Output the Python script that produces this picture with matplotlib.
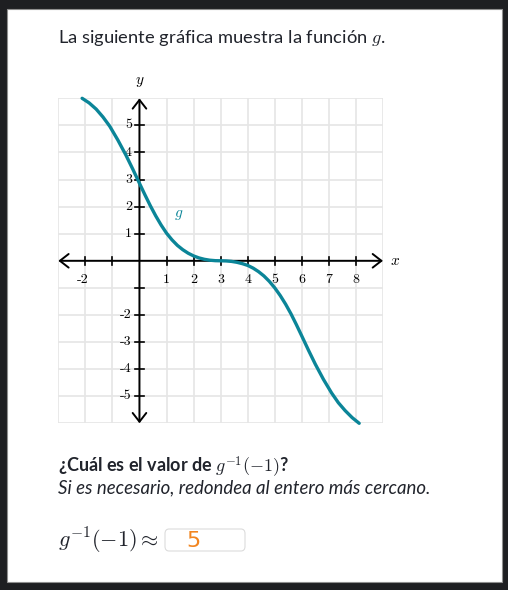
import matplotlib
matplotlib.use("Agg")
import matplotlib.pyplot as plt
from matplotlib.patches import Rectangle, FancyBboxPatch

plt.rcParams['mathtext.fontset'] = 'cm'

W, H = 508, 590

# ---- data ----
gx = [-2.12, -1.86, -1.60, -1.35, -1.10, -0.80, -0.50, -0.25, 0.00, 0.20, 0.40,
      0.60, 0.80, 1.00, 1.20, 1.40, 1.60, 1.80, 2.00, 2.20, 2.40, 2.60, 2.80, 3.00,
      3.20, 3.40, 3.60, 3.80, 4.00, 4.20, 4.40, 4.60, 4.80, 5.00, 5.20, 5.40,
      5.60, 5.80, 6.00, 6.25, 6.50, 6.80, 7.10, 7.35, 7.60, 7.86, 8.12]
gy = [6.00, 5.83, 5.60, 5.31, 4.97, 4.46, 3.90, 3.39, 2.86, 2.44, 2.035,
      1.66, 1.32, 1.02, 0.775, 0.57, 0.41, 0.28, 0.18, 0.106, 0.055, 0.022, 0.005, 0.00,
      -0.005, -0.022, -0.055, -0.105, -0.17, -0.27, -0.40, -0.56, -0.76, -1.00, -1.28, -1.60,
      -1.96, -2.36, -2.78, -3.31, -3.82, -4.38, -4.88, -5.24, -5.53, -5.79, -6.00]

xticks = [-2, -1, 1, 2, 3, 4, 5, 6, 7, 8]
xlabels = ["-2", "", "1", "2", "3", "4", "5", "6", "7", "8"]
yticks = [-5, -4, -3, -2, -1, 1, 2, 3, 4, 5]
ylabels = ["-5", "-4", "-3", "-2", "", "1", "2", "3", "4", "5"]

CURVE = "#0b8598"
TEXT = "#21242c"

fig = plt.figure(figsize=(W / 100, H / 100), dpi=100, facecolor="#1e1f22")

def fx(x):
    return x / W

def fy(y):
    return 1 - y / H

# white panel
fig.patches.append(Rectangle((fx(6.7), fy(582)), (502 - 6.7) / W, (582 - 9.3) / H,
                             transform=fig.transFigure, facecolor="white",
                             edgecolor="#8f8f8f", linewidth=0.8, zorder=-10))

# axes area: x -3..9 -> px 58.3..383 ; y -6..6 -> py 423.3..98.3
ax = fig.add_axes([fx(58.3), fy(423.3), (383 - 58.3) / W, (423.3 - 98.3) / H])
ax.set_zorder(1)
ax.patch.set_visible(False)
ax.set_xlim(-3, 9)
ax.set_ylim(-6, 6)
ax.set_axis_off()

for v in range(-3, 10):
    ax.plot([v, v], [-6, 6], color="#e6e6e6", lw=1.25, zorder=1, solid_capstyle="butt")
for v in range(-6, 7):
    ax.plot([-3, 9], [v, v], color="#e6e6e6", lw=1.25, zorder=1, solid_capstyle="butt")

# axes with arrows
arrow = dict(arrowstyle="<->,head_length=0.45,head_width=0.35", color="black",
             lw=1.4, mutation_scale=14, shrinkA=0, shrinkB=0)
ax.annotate("", xy=(-3.0, 0), xytext=(9.0, 0), arrowprops=arrow, zorder=3,
            annotation_clip=False)
ax.annotate("", xy=(0, -6.0), xytext=(0, 6.0), arrowprops=arrow, zorder=3,
            annotation_clip=False)

tk = 0.15
for t in xticks:
    ax.plot([t, t], [-tk, tk], color="black", lw=1.2, zorder=3)
for t in yticks:
    ax.plot([-tk, tk], [t, t], color="black", lw=1.2, zorder=3)

for t, lab in zip(xticks, xlabels):
    if lab:
        off = -0.09 if lab.startswith("-") else 0
        ax.text(t + off, -0.72, lab, family="cmr10", fontsize=10, ha="center",
                va="center", color="black", zorder=4)
for t, lab in zip(yticks, ylabels):
    if lab:
        ax.text(-0.28, t, lab, family="cmr10", fontsize=10, ha="right",
                va="center", color="black", zorder=4)

ax.text(9.45, 0, "$x$", fontsize=11, ha="center", va="center", color="black")
ax.text(0, 6.63, "$y$", fontsize=11, ha="center", va="center", color="black")

ax.plot(gx, gy, color=CURVE, lw=2.4, zorder=5, solid_capstyle="round",
        solid_joinstyle="round", clip_on=False)
ax.text(1.45, 1.7, "$g$", fontsize=11, color=CURVE, ha="center", va="center")

# texts
fig.text(fx(58.3), fy(43.3), "La siguiente gráfica muestra la función $g$.",
         family="Lato", fontsize=13.25, color=TEXT, va="baseline", ha="left")
fig.text(fx(58.3), fy(473), "¿Cuál es el valor de $g^{-1}(-1)$?",
         family="Lato", fontweight="bold", fontsize=13, color=TEXT,
         va="baseline", ha="left")
fig.text(fx(58.3), fy(493), "Si es necesario, redondea al entero más cercano.",
         family="Lato", style="italic", fontsize=13.4, color=TEXT,
         va="baseline", ha="left")
fig.text(fx(58.3), fy(547), r"$g^{-1}(-1) \approx$", fontsize=16, color=TEXT,
         va="baseline", ha="left")

fig.patches.append(FancyBboxPatch((fx(165), fy(551)), (245 - 165) / W, (551 - 529) / H,
                                  boxstyle="round,pad=0,rounding_size=0.008",
                                  transform=fig.transFigure, facecolor="white",
                                  edgecolor="#dcdcdc", linewidth=0.8, zorder=1))
fig.text(fx(193), fy(541), "5", family="DejaVu Sans", fontsize=16, color="#f2851f",
         ha="center", va="center")

fig.savefig("out.png", dpi=100, facecolor=fig.get_facecolor())
